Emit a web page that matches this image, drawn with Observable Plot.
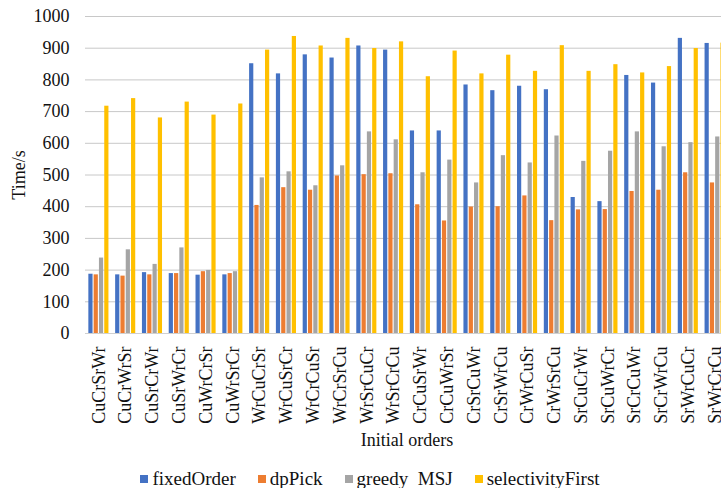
<!DOCTYPE html>
<html><head><meta charset="utf-8">
<script src="https://cdn.jsdelivr.net/npm/d3@7"></script>
<script src="https://cdn.jsdelivr.net/npm/@observablehq/plot@0.6"></script>
<style>
html,body{margin:0;padding:0;overflow:hidden;background:#fff;}
#chart{position:relative;width:740px;}
#chart svg{display:block;}
#chart svg, #chart svg text{font-family:"Liberation Serif","Times New Roman",Times,serif !important;}
.legend{display:flex;justify-content:center;align-items:center;gap:22px;font-family:"Liberation Serif","Times New Roman",Times,serif;font-size:19px;color:#111;margin-top:13px;height:22px;}
.legend span.item{display:flex;align-items:center;gap:4px;}
.legend span.sw{display:inline-block;width:8px;height:8px;}
</style></head><body><div id="chart"></div>
<script>
const orders = ["CuCrSrWr","CuCrWrSr","CuSrCrWr","CuSrWrCr","CuWrCrSr","CuWrSrCr",
  "WrCuCrSr","WrCuSrCr","WrCrCuSr","WrCrSrCu","WrSrCuCr","WrSrCrCu",
  "CrCuSrWr","CrCuWrSr","CrSrCuWr","CrSrWrCu","CrWrCuSr","CrWrSrCu",
  "SrCuCrWr","SrCuWrCr","SrCrCuWr","SrCrWrCu","SrWrCuCr","SrWrCrCu"];
const fixedOrder = [187,185,192,189,184,185, 851,819,879,869,907,894, 639,639,784,766,780,769, 429,416,814,790,931,915];
const dpPick = [185,181,185,189,195,189, 404,460,452,497,501,504, 406,355,399,400,434,356, 390,391,448,452,507,475];
const greedyMSJ = [238,264,218,270,199,195, 491,510,466,529,636,611, 507,547,475,561,538,623, 543,575,636,589,602,620];
const selectivityFirst = [717,741,680,730,689,724, 894,937,907,931,899,920, 810,891,819,878,827,908, 827,848,822,842,899,916];
const seriesNames = ["fixedOrder","dpPick","greedy  MSJ","selectivityFirst"];
const seriesValues = [fixedOrder, dpPick, greedyMSJ, selectivityFirst];
const colors = ["#4472C4","#ED7D31","#A5A5A5","#FFC000"];
const yTicks = [0,100,200,300,400,500,600,700,800,900,1000];

const W = 740, mL = 85, mR = 12;
const step = (W - mL - mR) / 24;
const band = step * 0.75;
const barW = 4.2, barStep = (band - barW) / 3;

const barMarks = seriesValues.map((vals, i) =>
  Plot.barY(orders.map((o, j) => ({order: o, value: vals[j]})), {
    x: "order", y: "value", fill: colors[i],
    insetLeft: i * barStep, insetRight: band - barW - i * barStep
  })
);

const chart = Plot.plot({
  width: W, height: 455,
  marginLeft: mL, marginRight: mR, marginTop: 16, marginBottom: 122,
  style: {fontSize: "18px", color: "#111", background: "#fff"},
  x: {type: "band", domain: orders, round: false, paddingInner: 0.25, paddingOuter: 0.125, tickRotate: -90, tickSize: 0, tickPadding: 13,
      label: "Initial orders", labelAnchor: "center", labelOffset: 112, labelArrow: "none"},
  y: {domain: [0, 1000], ticks: yTicks, tickSize: 0, tickPadding: 16, tickFormat: d3.format("d"),
      label: "Time/s", labelAnchor: "center", labelOffset: 73, labelArrow: "none"},
  marks: [
    Plot.gridY(yTicks, {stroke: "#c8c8c8", strokeOpacity: 1, strokeWidth: 1}),
    ...barMarks,
    Plot.ruleY([0], {stroke: "#d0d0d0"})
  ]
});
const root = document.getElementById("chart");
root.appendChild(chart);
const legend = document.createElement("div");
legend.className = "legend";
seriesNames.forEach((n, i) => {
  const it = document.createElement("span"); it.className = "item";
  const sw = document.createElement("span"); sw.className = "sw"; sw.style.background = colors[i];
  const tx = document.createElement("span"); tx.textContent = n; tx.style.whiteSpace = "pre";
  it.appendChild(sw); it.appendChild(tx); legend.appendChild(it);
});
root.appendChild(legend);
</script></body></html>
